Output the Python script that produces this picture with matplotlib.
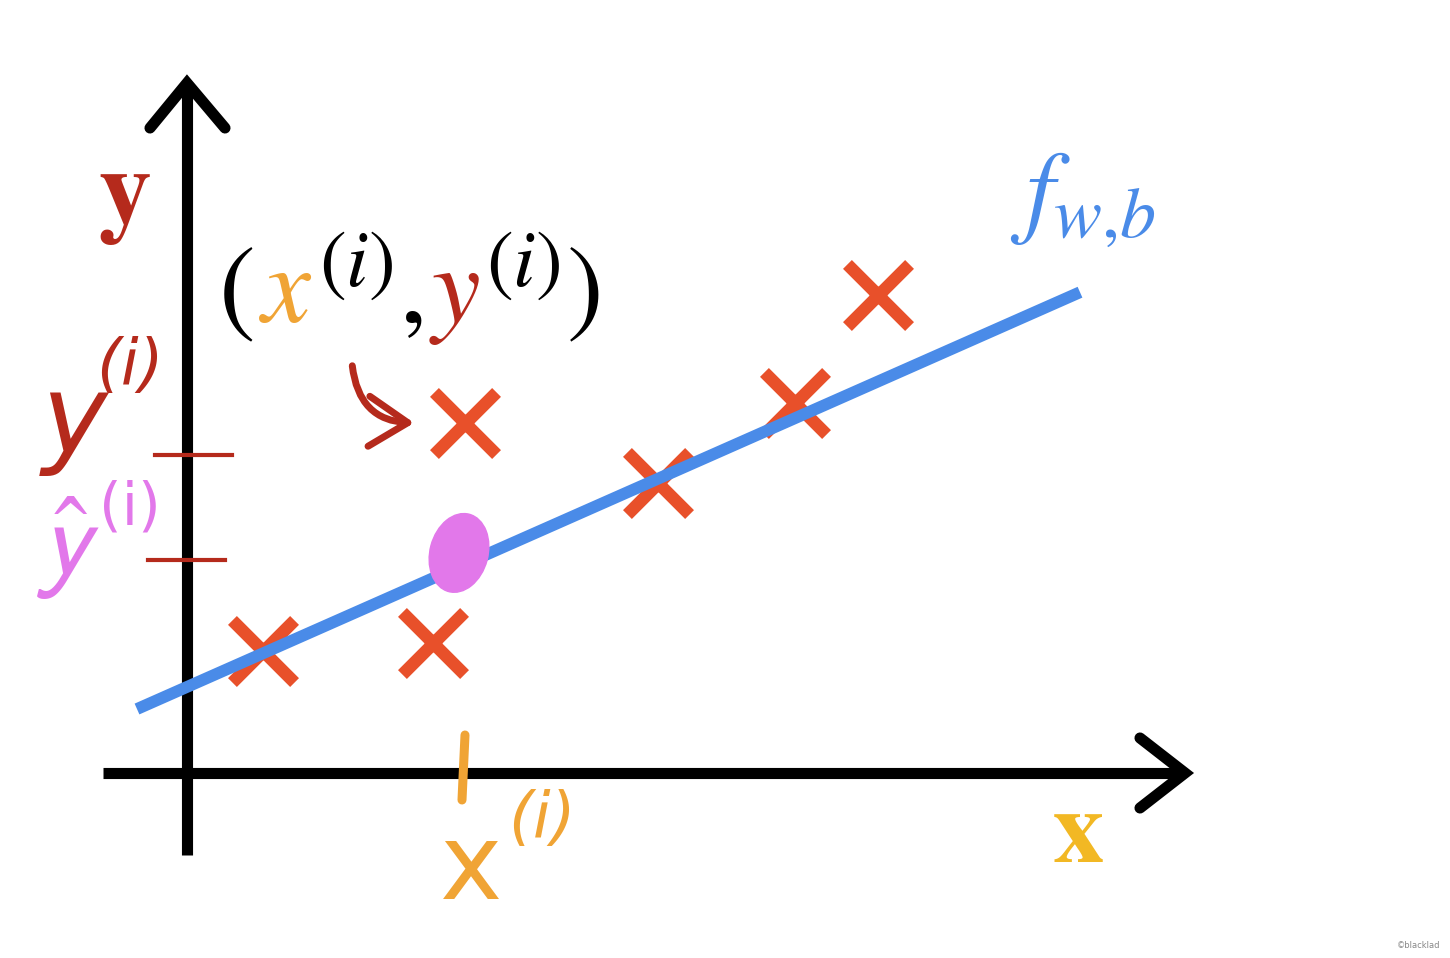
import matplotlib
matplotlib.use("Agg")
import matplotlib.pyplot as plt
import numpy as np
from matplotlib.patches import Ellipse, FancyArrowPatch

# data (units: axis origin at 0,0)
pts_x = [0.78, 2.48, 2.80, 4.73, 6.10, 6.93]
pts_y = [1.22, 1.30, 3.50, 2.90, 3.70, 4.78]

# fitted line f_wb(x) = w*x + b
w = 0.442
b = 0.852
line_x = [-0.48, 8.95]

x_i = 2.78          # x^(i)
y_i_tick = 3.18     # y^(i) mark on the y axis
yhat_tick = 2.13    # y-hat^(i) mark on the y axis

red = "#e8502a"
blue = "#4a8be8"
dred = "#b52a1c"
orange = "#f0a435"
gold = "#f2b824"
pink = "#e278ea"

plt.rcParams["mathtext.fontset"] = "stix"

fig = plt.figure(figsize=(14.5, 9.58), dpi=100)
ax = fig.add_axes([0, 0, 1, 1])
ax.set_xlim(-1.85, 12.65)
ax.set_ylim(-1.85, 7.73)
ax.axis("off")

# axes with arrow heads
ax.plot([-0.82, 10.0], [0, 0], color="black", lw=8, solid_capstyle="butt", zorder=1)
ax.plot([0.02, 0.02], [-0.82, 6.9], color="black", lw=8, solid_capstyle="butt", zorder=1)
ax.plot([9.55, 10.0, 9.55], [0.35, 0, -0.35], color="black", lw=8,
        solid_capstyle="round", solid_joinstyle="miter", zorder=1)
ax.plot([-0.35, 0.02, 0.4], [6.45, 6.9, 6.45], color="black", lw=8,
        solid_capstyle="round", solid_joinstyle="miter", zorder=1)

# data points
ax.scatter(pts_x, pts_y, marker="x", s=2000, color=red, linewidths=9, zorder=2)

# model line
line_x = np.array(line_x)
ax.plot(line_x, w * line_x + b, color=blue, lw=8.5, solid_capstyle="butt", zorder=3)

# prediction point
yhat = w * x_i + b
ax.add_patch(Ellipse((x_i - 0.04, yhat + 0.12), 0.58, 0.8, angle=-15, color=pink, zorder=4))

# tick marks on the y axis
ax.plot([-0.3, 0.47], [y_i_tick, y_i_tick], color=dred, lw=3, zorder=1)
ax.plot([-0.37, 0.4], [yhat_tick, yhat_tick], color=dred, lw=3, zorder=1)
# tick on x axis
ax.plot([x_i + 0.02, x_i - 0.01], [0.38, -0.27], color=orange, lw=6.5, solid_capstyle="round", zorder=2)

# axis labels
ax.text(-0.6, 5.75, "y", color=dred, fontsize=76, fontfamily="STIXGeneral",
        fontweight="bold", ha="center", va="center")
ax.text(8.93, -0.64, "x", color=gold, fontsize=74, fontfamily="STIXGeneral",
        fontweight="bold", ha="center", va="center")
ax.text(8.98, 5.75, r"$f_{w{,}b}$", color=blue, fontsize=74, ha="center", va="center")

# (x^(i), y^(i)) built from coloured pieces
pieces = [("(", "black", False), ("x", orange, False), ("(i)", "black", True),
          (",", "black", False), ("y", dred, False), ("(i)", "black", True),
          (")", "black", False)]
fig.canvas.draw()
renderer = fig.canvas.get_renderer()
xpos = 0.33
for s, c, sup in pieces:
    if sup:
        t = ax.text(xpos, 4.87, "$" + s + "$", color=c, fontsize=58, va="baseline")
    else:
        t = ax.text(xpos, 4.51, "$" + s + "$", color=c, fontsize=79, va="baseline")
    bb = t.get_window_extent(renderer).transformed(ax.transData.inverted())
    xpos = bb.x1 + 0.06

# hand written labels on the left
ax.text(-1.1, 3.5, "y", color=dred, fontsize=80, fontstyle="italic", ha="center", va="center")
ax.text(-0.55, 4.06, "(i)", color=dred, fontsize=46, fontstyle="italic",
        ha="center", va="center")
ax.text(-1.17, 2.25, r"$\hat{\mathsf{y}}$", color=pink, fontsize=76, ha="center", va="center")
ax.text(-0.55, 2.65, "(i)", color=pink, fontsize=42, ha="center", va="center")

# hand written x^(i)
ax.text(x_i + 0.08, -0.97, "x", color=orange, fontsize=76, ha="center", va="center")
ax.text(3.57, -0.47, "(i)", color=orange, fontsize=46,
        fontstyle="italic", ha="center", va="center")

# curved arrow to the point
arr = FancyArrowPatch((1.67, 4.1), (2.32, 3.5), connectionstyle="arc3,rad=0.45",
                      arrowstyle="->,head_length=14,head_width=9", color=dred, lw=5,
                      mutation_scale=2, zorder=2)
ax.add_patch(arr)

ax.text(12.55, -1.72, "\u00a9blacklad", color="#888888", fontsize=6, ha="right", va="center")

fig.savefig("out.png", dpi=100)
